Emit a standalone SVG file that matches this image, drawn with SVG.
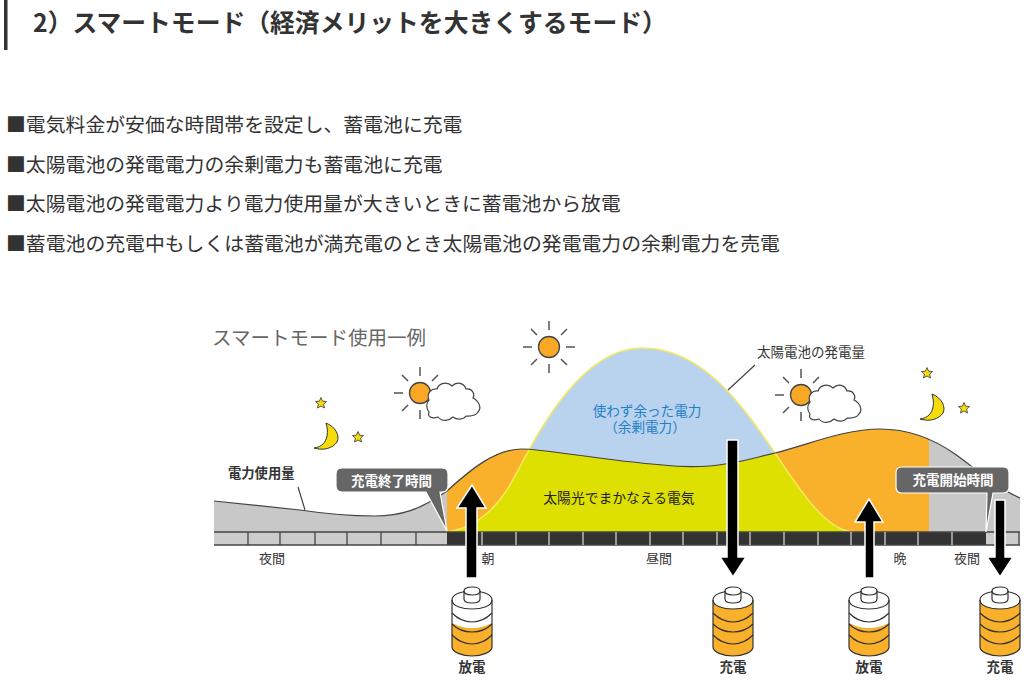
<svg xmlns="http://www.w3.org/2000/svg" xmlns:xlink="http://www.w3.org/1999/xlink" width="1024" height="682" viewBox="0 0 1024 682">
<style>
text{font-family:"Noto Sans CJK JP","Liberation Sans",sans-serif}
.body{font-size:19.85px;fill:#333}
.lbl{font-size:13px;fill:#333}
.m{text-anchor:middle}
.ray{stroke:#555;stroke-width:1.5;fill:none}
.sun{fill:#f9a825;stroke:#444;stroke-width:1.3}
.cloud{fill:#fff;stroke:#444;stroke-width:1.2}
.moon{fill:#f7dc0c;stroke:#333;stroke-width:1}
.star{fill:#f7dc0c;stroke:#333;stroke-width:.8}
.arrow{fill:#000;stroke:#fff;stroke-width:1.5}
.call{fill:#666;stroke:#fff;stroke-width:1.2}
.callt{font-size:13.5px;fill:#fff;font-weight:700;text-anchor:middle}
.batl{fill:none;stroke:#333;stroke-width:1.2}
.batt{font-size:13.5px;font-weight:700;fill:#333;text-anchor:middle}
</style>
<defs>
<path id="usage" d="M214 501L300 510C320 513 350 516 375 516C400 516 420 510 447 491C470 470 495 449 522 449C545 449 600 460 663 465C680 467 695 467 710 466C735 464 750 459 775 453C810 444 845 429 880 429C910 429 935 440 955 454C975 468 995 487 1020 498L1020 532L214 532Z"/>
<path id="solar" d="M447 532C475 528 495 510 510 485C530 450 575 348 642 348C705 348 745 410 775 453C800 490 825 530 853 532Z"/>
<clipPath id="cu"><use xlink:href="#usage"/></clipPath>
<path id="cloudshape" d="M0 17C-3 10 3 5 8 6C10 0 18-2 23 3C28-2 35 0 37 6C44 5 46 12 44 15C50 18 53 25 49 29C46 34 40 33 37 33C34 37 28 37 24 34C20 38 13 39 9 34C3 36-2 34 0 29C-3 25-3 20 0 17Z"/>
<g id="sunshape"><circle class="sun" r="10.5"/><path class="ray" d="M0-26V-17M0 17V26M-26 0H-17M17 0H26M-18-18L-12-12M18-18L12-12M-18 18L-12 12M18 18L12 12"/></g>
<path id="moonshape" d="M-1-14C9-10 13-1 10 5C6 11-3 14-13 11C-5 10-1 5 0-1C1-6 0-10-1-14Z"/>
<path id="starshape" d="M0-5.500L1.600-1.800L5.500-1.500L2.600 1.100L3.500 5L0 3L-3.500 5L-2.600 1.100L-5.500-1.500L-1.600-1.800Z"/>
<g id="batbody">
<path fill="#fff" d="M-20 13C-20 7-10 4 0 4C10 4 20 7 20 13V60C20 65 10 69 0 69C-10 69-20 65-20 60Z"/>
</g>
<path id="bat-low" fill="#f9b02a" d="M-20 36C-12 40-6 41 0 41C6 41 12 40 20 36V60C20 65 10 69 0 69C-10 69-20 65-20 60Z"/>
<path id="bat-full" fill="#f9b02a" d="M-20 13H20V60C20 65 10 69 0 69C-10 69-20 65-20 60Z"/>
<g id="batlines">
<path class="batl" d="M-20 26C-14 32-7 35 0 35C7 35 14 32 20 26"/>
<path class="batl" d="M-20 37C-14 43-7 45 0 45C7 45 14 43 20 37"/>
<path class="batl" d="M-20 48C-14 54-7 57 0 57C7 57 14 54 20 48"/>
<path fill="#fff" stroke="#333" stroke-width="1.200" d="M-20 13C-20 7-10 4 0 4C10 4 20 7 20 13C20 19 10 22 0 22C-10 22-20 19-20 13Z"/>
<path class="batl" d="M-20 13V60C-20 65-10 69 0 69C10 69 20 65 20 60V13"/>
<path fill="#fff" stroke="#333" stroke-width="1.200" d="M-8 4C-8 1-4 0 0 0C4 0 8 1 8 4V12C8 15 4 16 0 16C-4 16-8 15-8 12Z"/>
<path class="batl" d="M-8 4C-8 7-4 8 0 8C4 8 8 7 8 4"/>
</g>
</defs>

<g id="header">
<rect x="4" y="0" width="3.500" height="50" fill="#333"/>
<text x="33" y="32" font-size="24.800" font-weight="700" fill="#333">2）スマートモード（経済メリットを大きくするモード）</text>
</g>
<g id="bullets">
<text class="body" x="6" y="132">■電気料金が安価な時間帯を設定し、蓄電池に充電</text>
<text class="body" x="6" y="171.500">■太陽電池の発電電力の余剰電力も蓄電池に充電</text>
<text class="body" x="6" y="211">■太陽電池の発電電力より電力使用量が大きいときに蓄電池から放電</text>
<text class="body" x="6" y="251">■蓄電池の充電中もしくは蓄電池が満充電のとき太陽電池の発電電力の余剰電力を売電</text>
</g>

<text x="212" y="345" font-size="19.500" fill="#666">スマートモード使用一例</text>

<g id="chart-areas">
<use xlink:href="#solar" fill="#b9d3ee"/>
<use xlink:href="#usage" fill="#c8c8c8"/>
<rect x="447" y="420" width="482" height="112" fill="#f9b02a" clip-path="url(#cu)"/>
<g clip-path="url(#cu)"><use xlink:href="#solar" fill="#dde000"/></g>
<path fill="none" stroke="#f5e960" stroke-width="1.500" d="M447 532C475 528 495 510 510 485C530 450 575 348 642 348C705 348 745 410 775 453C800 490 825 530 853 532"/>
<path fill="none" stroke="#444" stroke-width="1.200" d="M214 501L300 510C320 513 350 516 375 516C400 516 420 510 447 491C470 470 495 449 522 449C545 449 600 460 663 465C680 467 695 467 710 466C735 464 750 459 775 453C810 444 845 429 880 429C910 429 935 440 955 454C975 468 995 487 1020 498"/>
</g>

<g id="timeline">
<rect x="214" y="532" width="233" height="13" fill="#ccc"/>
<rect x="986" y="532" width="34" height="13" fill="#ccc"/>
<rect x="447" y="532" width="539" height="13" fill="#333"/>
<path stroke="#444" stroke-width="1.300" fill="none" d="M214 532H1020M214 545H1020M248 532V545M280 532V545M315 532V545M347 532V545M381 532V545M416 532V545M1019 532V545"/>
<path stroke="#ddd" stroke-width="1.200" fill="none" d="M482 532V545M516 532V545M549 532V545M583 532V545M616 532V545M650 532V545M683 532V545M717 532V545M750 532V545M784 532V545M818 532V545M851 532V545M885 532V545M918 532V545M952 532V545"/>
<text class="lbl m" x="272" y="563">夜間</text>
<text class="lbl m" x="488" y="563">朝</text>
<text class="lbl m" x="659" y="563">昼間</text>
<text class="lbl m" x="900" y="563">晩</text>
<text class="lbl m" x="967" y="563">夜間</text>
</g>

<g id="sky">
<use xlink:href="#sunshape" x="420" y="393"/>
<use xlink:href="#cloudshape" class="cloud" x="429" y="383"/>
<use xlink:href="#sunshape" x="549" y="347"/>
<use xlink:href="#sunshape" x="801" y="395"/>
<use xlink:href="#cloudshape" class="cloud" x="810" y="385"/>
<use xlink:href="#moonshape" class="moon" x="327" y="437"/>
<use xlink:href="#moonshape" class="moon" x="933" y="408"/>
<use xlink:href="#starshape" class="star" x="321" y="403"/>
<use xlink:href="#starshape" class="star" x="358" y="437"/>
<use xlink:href="#starshape" class="star" x="927" y="373"/>
<use xlink:href="#starshape" class="star" x="964" y="408"/>
</g>

<g id="labels">
<text x="228" y="478" font-size="13.300" font-weight="700" fill="#333">電力使用量</text>
<text x="757" y="357" font-size="13.500" fill="#333">太陽電池の発電量</text>
<text class="m" x="647" y="416" font-size="13.600" fill="#1f80c8">使わず余った電力</text>
<text class="m" x="645" y="432" font-size="13.600" fill="#1f80c8">（余剰電力）</text>
<text class="m" x="619" y="503" font-size="13.800" fill="#222">太陽光でまかなえる電気</text>
</g>

<g id="connectors">
<path stroke="#444" stroke-width="1.200" fill="none" d="M298 487L305 510M728 390L755 365"/>
<path class="arrow" d="M472 485L486 508H477V578H466V508H457Z"/>
<path class="arrow" d="M727 440H738V557H746L733 577L720 557H727Z"/>
<path class="arrow" d="M869 499L883 522H874V578H865V522H855Z"/>
<path class="arrow" d="M995 500H1005V557H1013L1000 577L987 557H995Z"/>
</g>

<g id="callout-end">
<path class="call" d="M342 468H442Q448 468 448 474V486Q448 492 442 492H440L447 531L426 492H342Q336 492 336 486V474Q336 468 342 468Z"/>
<text class="callt" x="391.500" y="485.500">充電終了時間</text>
</g>
<g id="callout-start">
<path class="call" d="M902 467H1003Q1009 467 1009 473V487Q1009 493 1003 493H993L986 532L987 493H902Q896 493 896 487V473Q896 467 902 467Z"/>
<text class="callt" x="953" y="485">充電開始時間</text>
</g>

<g id="battery-1">
<use xlink:href="#batbody" x="472" y="587"/><use xlink:href="#bat-low" x="472" y="587"/><use xlink:href="#batlines" x="472" y="587"/>
<text class="batt" x="472" y="672">放電</text>
</g>
<g id="battery-2">
<use xlink:href="#batbody" x="733" y="587"/><use xlink:href="#bat-full" x="733" y="587"/><use xlink:href="#batlines" x="733" y="587"/>
<text class="batt" x="733" y="672">充電</text>
</g>
<g id="battery-3">
<use xlink:href="#batbody" x="869" y="587"/><use xlink:href="#bat-low" x="869" y="587"/><use xlink:href="#batlines" x="869" y="587"/>
<text class="batt" x="869" y="672">放電</text>
</g>
<g id="battery-4">
<use xlink:href="#batbody" x="1000" y="587"/><use xlink:href="#bat-full" x="1000" y="587"/><use xlink:href="#batlines" x="1000" y="587"/>
<text class="batt" x="1000" y="672">充電</text>
</g>
</svg>
